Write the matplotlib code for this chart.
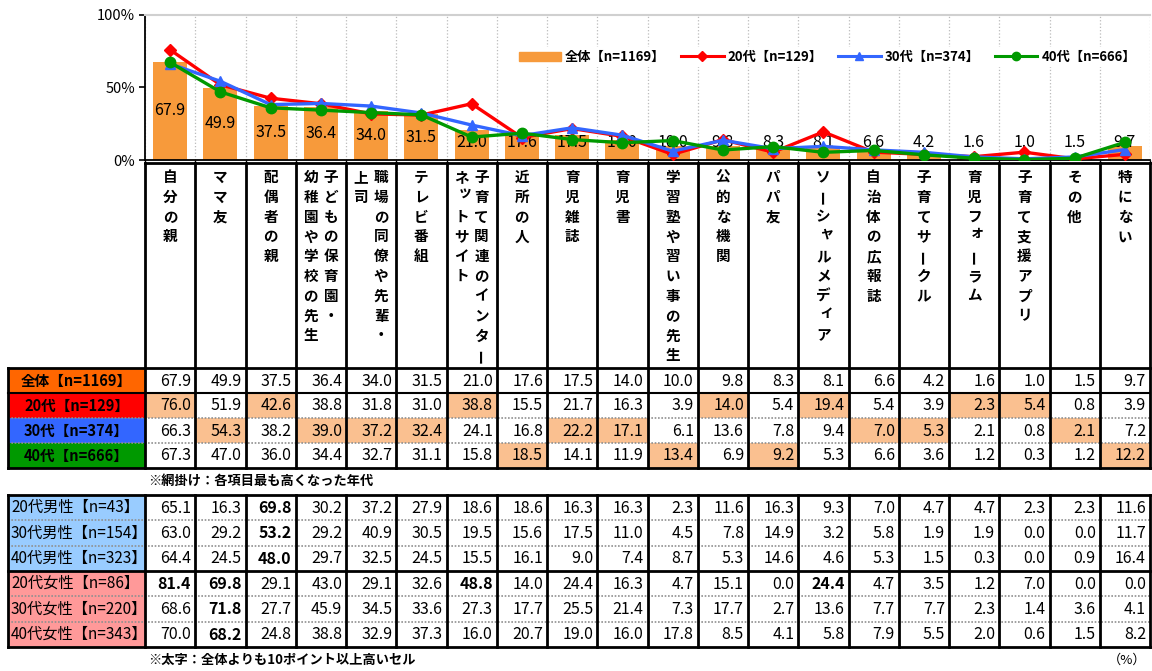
import numpy as np
import matplotlib
matplotlib.use("Agg")
import matplotlib.pyplot as plt
from matplotlib.patches import Rectangle, Patch
from matplotlib.lines import Line2D

plt.rcParams["font.family"] = ["Noto Sans CJK JP", "DejaVu Sans"]

# ---- data ----
categories = ["自分の親", "ママ友", "配偶者の親", "子どもの保育園・\n幼稚園や学校の先生",
              "職場の同僚や先輩・\n上司", "テレビ番組", "子育て関連のインター\nネットサイト",
              "近所の人", "育児雑誌", "育児書", "学習塾や習い事の先生", "公的な機関",
              "パパ友", "ソーシャルメディア", "自治体の広報誌", "子育てサークル",
              "育児フォーラム", "子育て支援アプリ", "その他", "特にない"]

age_labels = ["全体【n=1169】", "20代【n=129】", "30代【n=374】", "40代【n=666】"]
total = [67.9, 49.9, 37.5, 36.4, 34.0, 31.5, 21.0, 17.6, 17.5, 14.0,
         10.0, 9.8, 8.3, 8.1, 6.6, 4.2, 1.6, 1.0, 1.5, 9.7]
age20 = [76.0, 51.9, 42.6, 38.8, 31.8, 31.0, 38.8, 15.5, 21.7, 16.3,
         3.9, 14.0, 5.4, 19.4, 5.4, 3.9, 2.3, 5.4, 0.8, 3.9]
age30 = [66.3, 54.3, 38.2, 39.0, 37.2, 32.4, 24.1, 16.8, 22.2, 17.1,
         6.1, 13.6, 7.8, 9.4, 7.0, 5.3, 2.1, 0.8, 2.1, 7.2]
age40 = [67.3, 47.0, 36.0, 34.4, 32.7, 31.1, 15.8, 18.5, 14.1, 11.9,
         13.4, 6.9, 9.2, 5.3, 6.6, 3.6, 1.2, 0.3, 1.2, 12.2]

sex_labels = ["20代男性【n=43】", "30代男性【n=154】", "40代男性【n=323】",
              "20代女性【n=86】", "30代女性【n=220】", "40代女性【n=343】"]
male20 = [65.1, 16.3, 69.8, 30.2, 37.2, 27.9, 18.6, 18.6, 16.3, 16.3,
          2.3, 11.6, 16.3, 9.3, 7.0, 4.7, 4.7, 2.3, 2.3, 11.6]
male30 = [63.0, 29.2, 53.2, 29.2, 40.9, 30.5, 19.5, 15.6, 17.5, 11.0,
          4.5, 7.8, 14.9, 3.2, 5.8, 1.9, 1.9, 0.0, 0.0, 11.7]
male40 = [64.4, 24.5, 48.0, 29.7, 32.5, 24.5, 15.5, 16.1, 9.0, 7.4,
          8.7, 5.3, 14.6, 4.6, 5.3, 1.5, 0.3, 0.0, 0.9, 16.4]
female20 = [81.4, 69.8, 29.1, 43.0, 29.1, 32.6, 48.8, 14.0, 24.4, 16.3,
            4.7, 15.1, 0.0, 24.4, 4.7, 3.5, 1.2, 7.0, 0.0, 0.0]
female30 = [68.6, 71.8, 27.7, 45.9, 34.5, 33.6, 27.3, 17.7, 25.5, 21.4,
            7.3, 17.7, 2.7, 13.6, 7.7, 7.7, 2.3, 1.4, 3.6, 4.1]
female40 = [70.0, 68.2, 24.8, 38.8, 32.9, 37.3, 16.0, 20.7, 19.0, 16.0,
            17.8, 8.5, 4.1, 5.8, 7.9, 5.5, 2.0, 0.6, 1.5, 8.2]

# ---- styling ----
C_BAR = "#F79A3B"
C_20, C_30, C_40 = "#FF0000", "#3366FF", "#009900"
HEAD_COLORS = ["#FF6600", C_20, C_30, C_40]
C_MALE, C_FEMALE = "#99CCFF", "#FF9999"
C_HI = "#FAC090"

W, H = 1152, 671
X0, X1 = 145, 1150           # value columns span
HX0 = 8                      # row header left edge
n = len(categories)
cw = (X1 - X0) / n

fig = plt.figure(figsize=(W / 100, H / 100), dpi=100)
tab = fig.add_axes([0, 0, 1, 1])
tab.set_xlim(0, W); tab.set_ylim(H, 0); tab.axis("off")


def hline(y, xa, xb, solid=True, lw=2):
    if solid:
        tab.plot([xa, xb], [y, y], color="black", lw=lw, solid_capstyle="projecting")
    else:
        tab.plot([xa, xb], [y, y], color="#909090", lw=1.2, ls=(0, (1, 1)))


def vline(x, ya, yb, lw=2):
    tab.plot([x, x], [ya, yb], color="black", lw=lw, solid_capstyle="projecting")


# ---- category label cells (vertical text) ----
LAB_TOP, LAB_BOT = 163, 368
for i, lab in enumerate(categories):
    cx = X0 + (i + 0.5) * cw
    cols = lab.split("\n")
    for j, line in enumerate(cols):
        lx = cx + ((len(cols) - 1) / 2 - j) * 20
        for k, ch in enumerate(line):
            dx, dy = 0, 0
            if ch in "ッャィォ":
                dx, dy = 3, -4
            tab.text(lx + dx, 177 + k * 19.8 + dy, ch, ha="center", va="center",
                     fontsize=10.5, fontweight="bold",
                     rotation=90 if ch == "ー" else 0)

# ---- upper table (age groups) ----
rows_up = [total, age20, age30, age40]
ys_up = [368, 393, 418, 443, 468]
ages = np.array([age20, age30, age40])
best = ages.argmax(axis=0) + 1
for r, (lab, vals) in enumerate(zip(age_labels, rows_up)):
    ya, yb = ys_up[r], ys_up[r + 1]
    tab.add_patch(Rectangle((HX0, ya), X0 - HX0, yb - ya, color=HEAD_COLORS[r], lw=0))
    tab.text((HX0 + X0) / 2, (ya + yb) / 2, lab, ha="center", va="center",
             fontsize=10.5, fontweight="bold", color="black")
    for i, v in enumerate(vals):
        if r > 0 and best[i] == r:
            tab.add_patch(Rectangle((X0 + i * cw, ya), cw, yb - ya, color=C_HI, lw=0))
        tab.text(X0 + (i + 1) * cw - 4, (ya + yb) / 2 + 0.5, f"{v:.1f}",
                 ha="right", va="center", fontsize=11.5)

hline(LAB_TOP, X0, X1)
hline(ys_up[0], HX0, X1)
hline(ys_up[1], HX0, X1, lw=1.5)
hline(ys_up[2], HX0, X1, solid=False)
hline(ys_up[3], HX0, X1, solid=False)
hline(ys_up[4], HX0, X1)
vline(HX0, ys_up[0], ys_up[-1])
for i in range(n + 1):
    vline(X0 + i * cw, LAB_TOP, ys_up[-1])

tab.text(148, 481, "※網掛け：各項目最も高くなった年代", ha="left", va="center",
         fontsize=9.5, fontweight="bold")

# ---- lower table (gender x age) ----
rows_lo = [male20, male30, male40, female20, female30, female40]
ys_lo = [495 + k * 25.3 for k in range(len(rows_lo) + 1)]
for r, (lab, vals) in enumerate(zip(sex_labels, rows_lo)):
    ya, yb = ys_lo[r], ys_lo[r + 1]
    tab.add_patch(Rectangle((HX0, ya), X0 - HX0, yb - ya,
                            color=C_MALE if r < 3 else C_FEMALE, lw=0))
    tab.text(HX0 + 3, (ya + yb) / 2, lab, ha="left", va="center", fontsize=11)
    for i, v in enumerate(vals):
        bold = v >= total[i] + 10
        tab.text(X0 + (i + 1) * cw - 4, (ya + yb) / 2 + 0.5, f"{v:.1f}",
                 ha="right", va="center", fontsize=11.5,
                 fontweight="bold" if bold else "normal")

for k, y in enumerate(ys_lo):
    if k in (0, 3, len(ys_lo) - 1):
        hline(y, HX0, X1)
    else:
        hline(y, HX0, X1, solid=False)
vline(HX0, ys_lo[0], ys_lo[-1])
for i in range(n + 1):
    vline(X0 + i * cw, ys_lo[0], ys_lo[-1])

tab.text(148, 660, "※太字：全体よりも10ポイント以上高いセル", ha="left", va="center",
         fontsize=9.5, fontweight="bold")
tab.text(1146, 660, "（%）", ha="right", va="center", fontsize=9.5)

# ---- chart ----
ax = fig.add_axes([X0 / W, 1 - 160 / H, (X1 - X0) / W, 145 / H])
x = np.arange(n)
ax.bar(x, total, width=0.68, color=C_BAR, zorder=2)
for xi, v in zip(x, total):
    ax.text(xi, max(v / 2, 12.4), f"{v:.1f}", ha="center", va="center",
            fontsize=11.5, zorder=2.5)
ax.plot(x, age20, color=C_20, lw=2.4, marker="D", ms=6, zorder=3)
ax.plot(x, age30, color=C_30, lw=2.4, marker="^", ms=7.5, zorder=3.1)
ax.plot(x, age40, color=C_40, lw=2.4, marker="o", ms=7.5, zorder=3.2)

ax.set_xlim(-0.5, n - 0.5)
ax.set_ylim(0, 100)
ax.set_yticks([0, 50, 100])
ax.set_yticklabels(["0%", "50%", "100%"], fontsize=10.5)
ax.set_xticks(np.arange(-0.5, n, 1))
ax.set_xticklabels([])
ax.tick_params(axis="y", length=4, width=1.2, pad=3)
ax.tick_params(axis="x", length=3, width=1)
ax.grid(axis="x", color="#bbbbbb", ls=":", lw=0.9, zorder=0)
ax.set_axisbelow(True)
for s in ("left", "bottom"):
    ax.spines[s].set_color("black"); ax.spines[s].set_linewidth(1.3)
ax.spines["top"].set_color("#d0d0d0"); ax.spines["top"].set_linewidth(1.5)
ax.spines["right"].set_visible(False)

handles = [Patch(color=C_BAR),
           Line2D([], [], color=C_20, lw=2.2, marker="D", ms=5),
           Line2D([], [], color=C_30, lw=2.2, marker="^", ms=6),
           Line2D([], [], color=C_40, lw=2.2, marker="o", ms=6)]
leg = ax.legend(handles, age_labels, loc="center", bbox_to_anchor=(0.679, 0.71),
                ncol=4, frameon=True, facecolor="white", edgecolor="none",
                framealpha=1, prop={"weight": "bold", "size": 9.5},
                handlelength=3.2, columnspacing=1.2, handletextpad=0.3,
                borderpad=0.2)
leg.set_zorder(5)

fig.savefig("out.png", dpi=100)
